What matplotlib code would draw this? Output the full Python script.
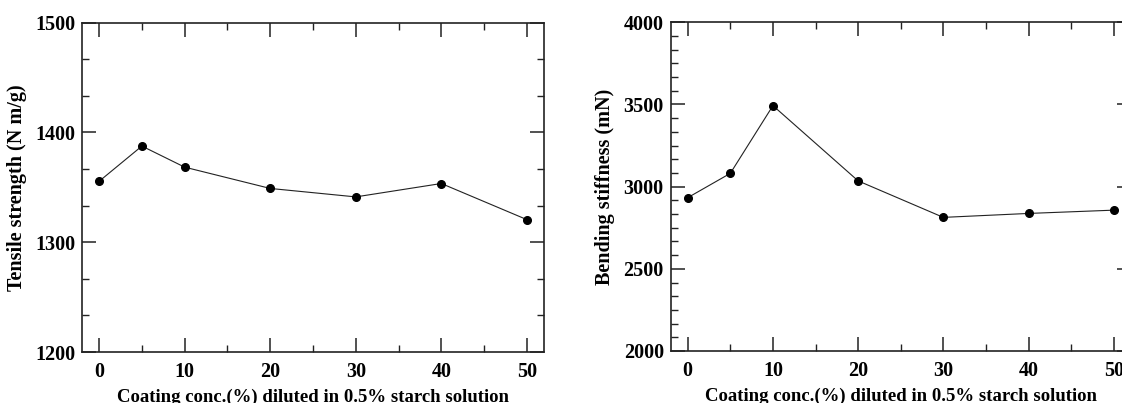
import matplotlib.pyplot as plt
from matplotlib.ticker import MultipleLocator

# Data
conc = [0, 5, 10, 20, 30, 40, 50]
tensile = [1355.5, 1387.6, 1368.4, 1349.0, 1341.3, 1353.5, 1320.6]
bending = [2933, 3081, 3493, 3035, 2813, 2837, 2857]

xlabel = 'Coating conc.(%) diluted in 0.5% starch solution'

plt.rcParams['font.family'] = ['Liberation Serif', 'DejaVu Serif']
plt.rcParams['font.weight'] = 'bold'

fig = plt.figure(figsize=(11.22, 4.03), dpi=100)
W, H = 1122.0, 403.0


def style_axis(ax, ylim, ymajor, yminor, ylabel):
    ax.set_xlim(-2, 52)
    ax.set_ylim(*ylim)
    ax.xaxis.set_major_locator(MultipleLocator(10))
    ax.xaxis.set_minor_locator(MultipleLocator(5))
    ax.yaxis.set_major_locator(MultipleLocator(ymajor))
    ax.yaxis.set_minor_locator(MultipleLocator(yminor))
    ax.tick_params(which='both', direction='in', top=True, right=True,
                   colors='#222222', labelcolor='black')
    ax.tick_params(which='major', length=10, width=1.1, labelsize=14.5)
    ax.tick_params(which='minor', length=5, width=1.0)
    ax.tick_params(axis='x', which='major', pad=7)
    ax.tick_params(axis='y', which='major', pad=5)
    for s in ax.spines.values():
        s.set_linewidth(1.2)
        s.set_color('#222222')
    for lab in ax.get_xticklabels() + ax.get_yticklabels():
        lab.set_fontweight('bold')
    ax.set_xlabel(xlabel, fontsize=13.5, fontweight='bold', labelpad=5)
    ax.set_ylabel(ylabel, fontsize=14.5, fontweight='bold', labelpad=6)


ax1 = fig.add_axes([82 / W, (H - 352) / H, (544 - 82) / W, (352 - 22.7) / H])
ax1.plot(conc, tensile, color='#222222', lw=0.8, marker='o', ms=5.5,
         mfc='black', mec='black')
style_axis(ax1, (1200, 1500), 100, 100 / 3, 'Tensile strength (N m/g)')

ax2 = fig.add_axes([670.7 / W, (H - 351) / H, (1130.8 - 670.7) / W, (351 - 22.3) / H])
ax2.plot(conc, bending, color='#222222', lw=0.8, marker='o', ms=5.5,
         mfc='black', mec='black', clip_on=False)
style_axis(ax2, (2000, 4000), 500, 500 / 6, 'Bending stiffness (mN)')

plt.savefig('out.png', dpi=100)
